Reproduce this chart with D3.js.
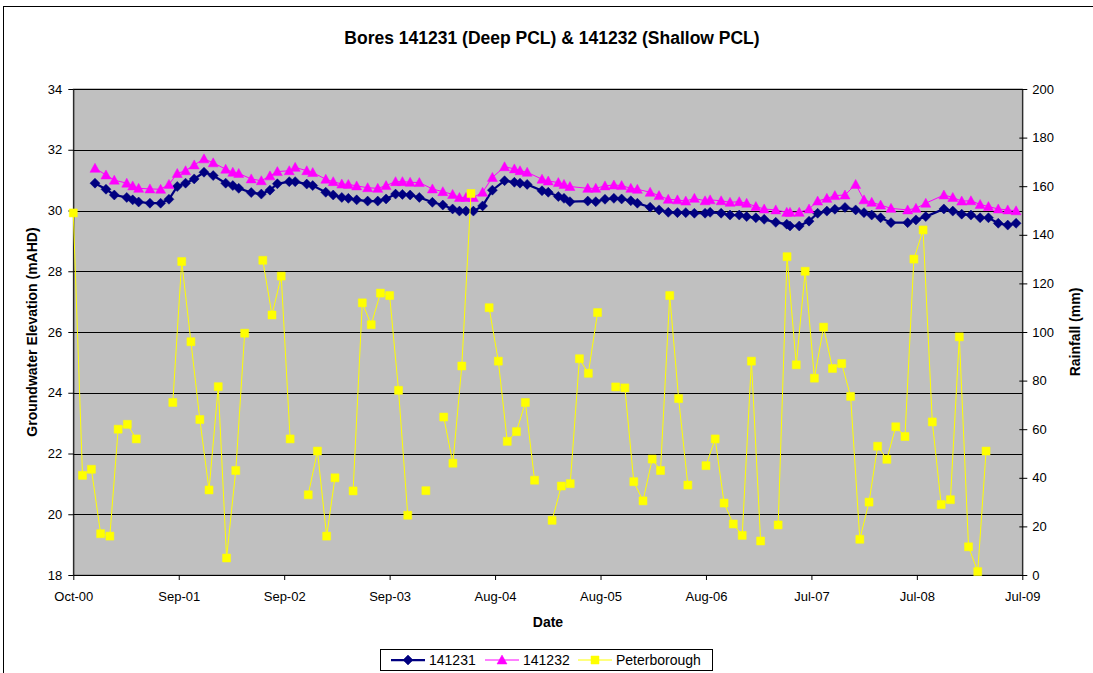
<!DOCTYPE html>
<html>
<head>
<meta charset="utf-8">
<script src="https://cdn.jsdelivr.net/npm/d3@7"></script>
<style>
  body { margin: 0; background: #fff; }
  svg { display: block; font-family: "Liberation Sans", Arial, sans-serif; }
</style>
</head>
<body>
<svg id="chart" width="1093" height="673"></svg>
<script>
// ---- data ----
var boreDates = [
  "2000-12-13","2001-01-19","2001-02-16","2001-03-30","2001-04-19","2001-05-09","2001-06-16","2001-07-22",
  "2001-08-19","2001-09-16","2001-10-14","2001-11-12","2001-12-15","2002-01-15","2002-02-26","2002-03-22",
  "2002-04-11","2002-05-23","2002-06-26","2002-07-25","2002-08-19","2002-09-28","2002-10-18","2002-11-26",
  "2002-12-16","2003-01-29","2003-02-23","2003-03-24","2003-04-15","2003-05-13","2003-06-19","2003-07-23",
  "2003-08-20","2003-09-21","2003-10-14","2003-11-09","2003-12-10","2004-01-23","2004-02-27","2004-03-31",
  "2004-04-23","2004-05-15","2004-06-09","2004-07-10","2004-08-12","2004-09-22","2004-10-25","2004-11-13",
  "2004-12-07","2005-01-26","2005-02-16","2005-03-22","2005-04-10","2005-04-30","2005-06-29","2005-07-26",
  "2005-08-26","2005-09-25","2005-10-21","2005-11-21","2005-12-13","2006-01-25","2006-02-24","2006-03-27",
  "2006-04-27","2006-05-25","2006-06-23","2006-07-29","2006-08-15","2006-09-21","2006-10-21","2006-11-21",
  "2006-12-16","2007-01-16","2007-02-13","2007-03-24","2007-04-30","2007-05-11","2007-06-11","2007-07-14",
  "2007-08-12","2007-09-12","2007-10-09","2007-11-12","2007-12-18","2008-01-15","2008-02-10","2008-03-11",
  "2008-04-15","2008-06-10","2008-07-08","2008-08-10","2008-10-10","2008-11-09","2008-12-09","2009-01-09",
  "2009-02-09","2009-03-09","2009-04-11","2009-05-13","2009-06-10"
];

// bore 141231 (deep PCL), mAHD
var bore141231 = [
  30.90,30.70,30.51,30.43,30.35,30.28,30.24,30.24,30.37,30.79,30.90,31.04,31.26,31.15,30.90,30.82,
  30.73,30.59,30.54,30.67,30.88,30.95,30.95,30.87,
  30.82,30.60,30.51,30.43,30.40,30.35,30.31,30.31,30.38,30.54,30.53,30.51,30.43,30.27,30.18,30.05,
  29.98,29.98,29.98,30.15,30.67,30.98,30.93,30.90,30.86,30.65,30.60,
  30.46,30.40,30.29,30.31,30.29,30.37,30.40,30.38,30.32,30.24,30.11,30.02,29.94,29.93,29.93,29.91,
  29.91,29.94,29.91,29.85,29.85,29.80,29.76,29.71,29.61,29.55,
  29.49,29.49,29.65,29.91,29.98,30.04,30.10,30.02,29.93,29.85,29.76,29.60,29.60,29.69,29.80,30.05,
  29.98,29.88,29.85,29.76,29.76,29.58,29.52,29.58
];

// bore 141232 (shallow PCL), mAHD
var bore141232 = [
  31.39,31.17,31.00,30.90,30.81,30.73,30.71,30.70,30.86,31.22,31.31,31.50,31.70,31.57,31.36,31.26,
  31.22,31.04,30.98,31.14,31.28,31.31,31.42,31.31,
  31.25,31.03,30.95,30.87,30.86,30.81,30.75,30.73,30.82,30.95,30.95,30.93,30.92,30.71,30.62,30.53,
  30.43,30.43,30.43,30.60,31.09,31.44,31.37,31.31,31.26,31.03,30.97,
  30.92,30.86,30.79,30.73,30.73,30.81,30.84,30.82,30.73,30.70,30.60,30.49,30.37,30.35,30.31,30.40,
  30.32,30.35,30.32,30.27,30.29,30.24,30.13,30.05,30.02,29.94,
  29.94,29.94,30.05,30.31,30.40,30.49,30.51,30.86,30.35,30.27,30.18,30.07,30.02,30.07,30.24,30.51,
  30.43,30.31,30.32,30.20,30.13,30.05,30.02,29.99
];

// Peterborough monthly rainfall (mm), Oct 2000 .. Mar 2009, null = no record
var rainStart = "2000-10-01";
var rainfall = [
  149,41,43.5,17,16,60,62,56,null,null,null,71,
  129,96,64,35,77.5,7,43,99.5,null,129.5,107,123,
  56,null,33,51,16,40,null,34.6,112,103,116,115,
  76,24.6,null,34.7,null,65,46,86,157,null,110,88,
  55,59,71,39,null,22.5,36.6,37.6,89,83,108,null,
  77.4,77,38.4,30.5,47.7,43,115,72.6,37,null,45,56,
  29.6,21,16.3,88,14,null,20.6,131,86.5,125,81,102,
  85,87,73.5,14.7,30,53,47.6,61,57,130,142,63,
  29,31,98,11.6,1.4,51
];

var xTickDates = ["2000-10-01","2001-09-21","2002-09-11","2003-09-01","2004-08-21",
                  "2005-08-11","2006-08-01","2007-07-22","2008-07-11","2009-07-01"];
var leftTicks = [18,20,22,24,26,28,30,32,34];
var rightTicks = [0,20,40,60,80,100,120,140,160,180,200];
var seriesNames = ["141231","141232","Peterborough"];
var seriesColors = ["#000080","#ff00ff","#ffff00"];

// ---- layout ----
var svg = d3.select("#chart");
var plot = {left: 73.3, right: 1022.3, top: 89, bottom: 575};
var parse = d3.utcParse("%Y-%m-%d");

var x = d3.scaleUtc()
  .domain([parse("2000-10-01"), parse("2009-07-01")])
  .range([plot.left, plot.right]);
var yL = d3.scaleLinear().domain([18, 34]).range([plot.bottom, plot.top]);
var yR = d3.scaleLinear().domain([0, 200]).range([plot.bottom, plot.top]);

// outer chart frame
svg.append("rect")
  .attr("x", 3.5).attr("y", 6.5).attr("width", 1100).attr("height", 700)
  .attr("fill", "#fff").attr("stroke", "#000");

svg.append("text")
  .attr("x", 552).attr("y", 44)
  .attr("text-anchor", "middle")
  .style("font-size", "17.5px").style("font-weight", "bold")
  .text("Bores 141231 (Deep PCL) & 141232 (Shallow PCL)");

svg.append("rect")
  .attr("x", plot.left).attr("y", plot.top)
  .attr("width", plot.right - plot.left).attr("height", plot.bottom - plot.top)
  .attr("fill", "#c0c0c0").attr("stroke", "#808080");

svg.append("g")
  .selectAll("line")
  .data(leftTicks.slice(1))
  .enter().append("line")
  .attr("x1", plot.left).attr("x2", plot.right)
  .attr("y1", d => Math.round(yL(d)) + 0.5).attr("y2", d => Math.round(yL(d)) + 0.5)
  .attr("stroke", "#000");

// axes
function styleAxis(g) {
  g.select(".domain").attr("stroke", "#000");
  g.selectAll(".tick line").attr("stroke", "#000");
  g.selectAll(".tick text").attr("fill", "#000").style("font-size", "13px").style("font-family", "Liberation Sans, Arial, sans-serif");
}

svg.append("g")
  .attr("transform", "translate(" + plot.left + ",0)")
  .call(d3.axisLeft(yL).tickValues(leftTicks).tickSize(5).tickPadding(6).tickSizeOuter(0))
  .call(styleAxis);

var gR = svg.append("g")
  .attr("transform", "translate(" + plot.right + ",0)")
  .call(d3.axisRight(yR).tickValues(rightTicks).tickSize(5).tickPadding(5).tickSizeOuter(0))
  .call(styleAxis);
gR.selectAll(".tick line").attr("x1", -3);

svg.append("g")
  .attr("transform", "translate(0," + plot.bottom + ")")
  .call(d3.axisBottom(x).tickValues(xTickDates.map(parse))
    .tickFormat(d3.utcFormat("%b-%y")).tickSize(5).tickPadding(12).tickSizeOuter(0))
  .call(styleAxis);

// axis titles
svg.append("text")
  .attr("x", 548).attr("y", 627).attr("text-anchor", "middle")
  .style("font-size", "14px").style("font-weight", "bold").text("Date");

svg.append("text")
  .attr("transform", "translate(37,332) rotate(-90)").attr("text-anchor", "middle")
  .style("font-size", "14px").style("font-weight", "bold").text("Groundwater Elevation (mAHD)");

svg.append("text")
  .attr("transform", "translate(1080,332) rotate(-90)").attr("text-anchor", "middle")
  .style("font-size", "14px").style("font-weight", "bold").text("Rainfall (mm)");

// markers
var diamond = "M0,-5L5,0L0,5L-5,0Z";
var triangle = "M0,-5L5,4L-5,4Z";
var square = "M-4,-4h8v8h-8Z";
var markers = [diamond, triangle, square];

var bores = boreDates.map((d, i) => ({date: parse(d), a: bore141231[i], b: bore141232[i]}));
var rain = rainfall.map((v, i) => ({date: d3.utcMonth.offset(parse(rainStart), i), v: v}));

function drawSeries(data, xf, yf, color, width, marker) {
  var line = d3.line().defined(d => yf(d) != null).x(xf).y(d => yf(d));
  svg.append("path")
    .datum(data)
    .attr("d", line)
    .attr("fill", "none").attr("stroke", color).attr("stroke-width", width);
  svg.append("g")
    .selectAll("path")
    .data(data.filter(d => yf(d) != null))
    .enter().append("path")
    .attr("d", marker)
    .attr("transform", d => "translate(" + xf(d) + "," + yf(d) + ")")
    .attr("fill", color).attr("stroke", color).attr("stroke-width", 0.5);
}

drawSeries(bores, d => x(d.date), d => yL(d.a), seriesColors[0], 2.25, markers[0]);
drawSeries(bores, d => x(d.date), d => yL(d.b), seriesColors[1], 1, markers[1]);
drawSeries(rain, d => x(d.date), d => d.v == null ? null : yR(d.v), seriesColors[2], 1, markers[2]);

// legend
var legend = svg.append("g");
legend.append("rect")
  .attr("x", 380.5).attr("y", 649.5).attr("width", 332).attr("height", 21)
  .attr("fill", "#fff").attr("stroke", "#000");

var legendX = [391, 485, 578];
seriesNames.forEach(function(name, i) {
  var g = legend.append("g").attr("transform", "translate(" + legendX[i] + ",660)");
  g.append("line").attr("x1", 0).attr("x2", 34)
    .attr("stroke", seriesColors[i]).attr("stroke-width", i === 0 ? 2.25 : 1);
  g.append("path").attr("d", markers[i]).attr("transform", "translate(17,0)")
    .attr("fill", seriesColors[i]).attr("stroke", seriesColors[i]).attr("stroke-width", 0.5);
  g.append("text").attr("x", 38).attr("y", 5)
    .style("font-size", "14px").text(name);
});
</script>
</body>
</html>
